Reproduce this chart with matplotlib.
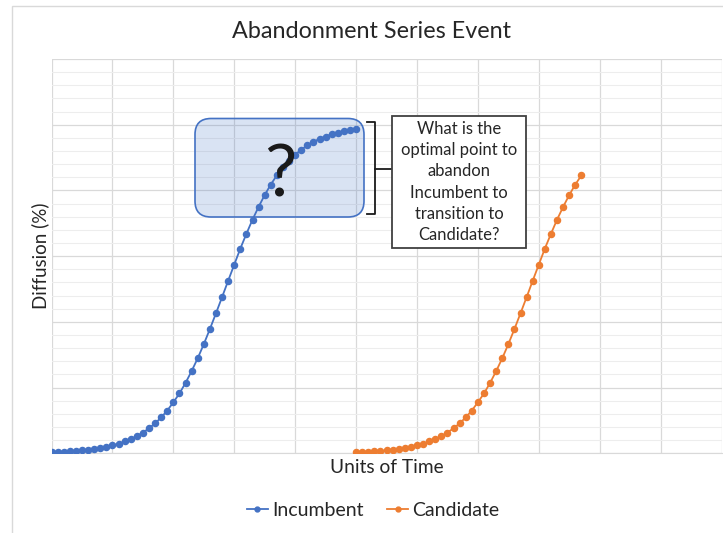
import matplotlib.pyplot as plt
from matplotlib.patches import FancyBboxPatch, Rectangle
from matplotlib.lines import Line2D

# values (diffusion in %, one point per time unit)
incumbent_x = list(range(0, 51))
incumbent_y = [
    0.3, 0.4, 0.5, 0.6, 0.7, 0.9, 1.1, 1.3, 1.6, 2.0,
    2.4, 2.9, 3.6, 4.3, 5.2, 6.3, 7.6, 9.1, 10.9, 13.0,
    15.5, 18.2, 21.4, 25.0, 28.9, 33.2, 37.8, 42.6, 47.5, 52.5,
    57.4, 62.3, 66.8, 71.1, 75.0, 78.6, 81.8, 84.6, 87.0, 89.1,
    90.9, 92.4, 93.7, 94.8, 95.7, 96.4, 97.1, 97.6, 98.0, 98.4,
    98.7,
]
candidate_x = list(range(50, 88))
candidate_y = [
    0.3, 0.4, 0.5, 0.6, 0.7, 0.9, 1.1, 1.3, 1.6, 2.0,
    2.4, 2.9, 3.6, 4.3, 5.2, 6.3, 7.6, 9.1, 10.9, 13.0,
    15.5, 18.2, 21.4, 25.0, 28.9, 33.2, 37.8, 42.6, 47.5, 52.5,
    57.4, 62.3, 66.8, 71.1, 75.0, 78.6, 81.8, 84.6,
]

title = "Abandonment Series Event"
question = "What is the\noptimal point to\nabandon\nIncumbent to\ntransition to\nCandidate?"

BLUE = "#4472C4"
ORANGE = "#ED7D31"
W, H = 723, 533

plt.rcParams["font.family"] = ["Lato", "DejaVu Sans"]


def fx(px):
    return px / W


def fy(py):
    # reference pixels are measured from the top
    return 1 - py / H


fig = plt.figure(figsize=(W / 100, H / 100), dpi=100)
ax = fig.add_axes([fx(51.5), fy(453.3), fx(721.5 - 51.5), (453.3 - 59) / H])

ax.plot(incumbent_x, incumbent_y, color=BLUE, lw=1.3, marker="o", ms=4.4,
        label="Incumbent", zorder=3)
ax.plot(candidate_x, candidate_y, color=ORANGE, lw=1.3, marker="o", ms=4.4,
        label="Candidate", zorder=3)

ax.set_xlim(0, 110)
ax.set_ylim(0, 120)
ax.set_xticks(range(0, 111, 10))
ax.set_yticks(range(0, 121, 20))
ax.set_yticks(range(0, 121, 4), minor=True)
ax.tick_params(which="both", length=0, labelbottom=False, labelleft=False)
ax.grid(which="major", color="#d9d9d9", lw=0.9)
ax.grid(which="minor", axis="y", color="#ededed", lw=0.8)
ax.set_axisbelow(True)
for s in ax.spines.values():
    s.set_visible(False)
ax.spines["bottom"].set_visible(True)
ax.spines["bottom"].set_color("#d9d9d9")

ax.set_xlabel("Units of Time", fontsize=13.8, color="#262626", labelpad=4)
ax.set_ylabel("Diffusion (%)", fontsize=13.5, color="#262626", labelpad=2)
fig.text(fx(372), fy(31), title, fontsize=16.8, color="#262626",
         ha="center", va="center")

# outer chart frame
fig.add_artist(Rectangle((fx(11.5), fy(540)), fx(730), (540 - 6) / H,
                         transform=fig.transFigure, fill=False,
                         ec="#d9d9d9", lw=1))

# translucent rounded box around the plateau
box = FancyBboxPatch((fx(195), fy(217)), fx(364 - 195), (217 - 118.5) / H,
                     boxstyle="round,pad=0,rounding_size=%f" % fx(16),
                     mutation_aspect=W / H, transform=fig.transFigure,
                     fc=(0.27, 0.45, 0.77, 0.2), ec=BLUE, lw=1.2, zorder=5)
fig.add_artist(box)
fig.text(fx(280), fy(176), "?", fontsize=52, color="#1a1a1a",
         ha="center", va="center", zorder=6)

# bracket pointing at the question
bx = [fx(367), fx(375), fx(375), fx(367)]
by = [fy(122.5), fy(122.5), fy(214), fy(214)]
fig.add_artist(Line2D(bx, by, color="#1a1a1a", lw=1.3,
                      transform=fig.transFigure))
fig.add_artist(Line2D([fx(375), fx(391)], [fy(169), fy(169)],
                      color="#1a1a1a", lw=1.3, transform=fig.transFigure))

fig.add_artist(Rectangle((fx(392), fy(247.5)), fx(526 - 392), (247.5 - 116) / H,
                         transform=fig.transFigure, fc="white",
                         ec="#404040", lw=1.3, zorder=5))
fig.text(fx(459), fy(182), question, fontsize=12, color="#262626",
         ha="center", va="center", linespacing=1.4, zorder=6)

fig.legend(loc="center", bbox_to_anchor=(fx(373), fy(510)), ncol=2,
           frameon=False, fontsize=14, handlelength=1.1, handletextpad=0.2,
           columnspacing=1.2, markerscale=0.8, labelcolor="#262626")

fig.savefig("out.png", dpi=100)
